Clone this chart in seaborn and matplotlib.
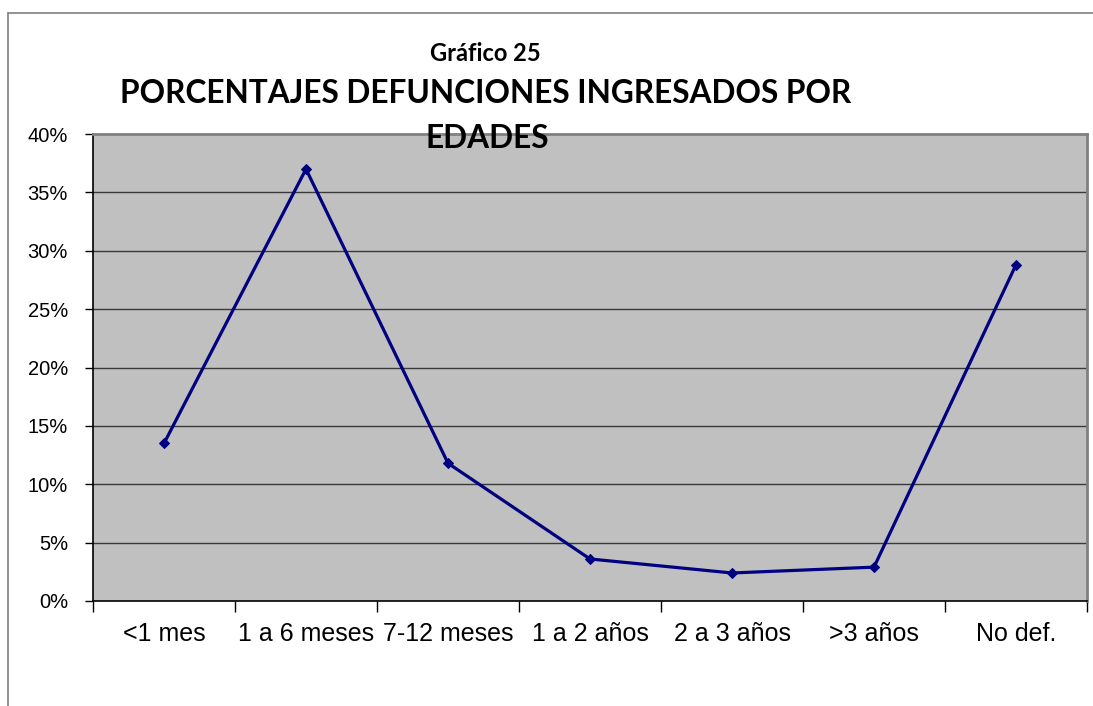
import matplotlib
matplotlib.use("Agg")
import matplotlib.pyplot as plt
from matplotlib.lines import Line2D
import seaborn as sns
import pandas as pd

# Age groups and share of deaths among admitted patients
categories = ["<1 mes", "1 a 6 meses", "7-12 meses", "1 a 2 años", "2 a 3 años", ">3 años", "No def."]
percentages = [13.5, 37.0, 11.8, 3.6, 2.4, 2.9, 28.8]
y_ticks = [0, 5, 10, 15, 20, 25, 30, 35, 40]
y_tick_labels = [f"{v}%" for v in y_ticks]

df = pd.DataFrame({"edad": categories, "porcentaje": percentages})

sns.set_theme(style="white")
plt.rcParams["font.family"] = ["Liberation Sans", "DejaVu Sans"]

fig = plt.figure(figsize=(10.93, 7.06), dpi=100)
ax = fig.add_axes([93 / 1093, 1 - 601 / 706, (1087 - 93) / 1093, (601 - 134) / 706])
ax.set_facecolor("#C0C0C0")

# outer chart frame: only its top and left edges fall inside the canvas
frame_x = 7.5 / 1093
frame_y = 1 - 12.5 / 706
fig.add_artist(Line2D([frame_x, 1.0], [frame_y, frame_y], transform=fig.transFigure,
                      color="#808080", linewidth=1.2))
fig.add_artist(Line2D([frame_x, frame_x], [0.0, frame_y], transform=fig.transFigure,
                      color="#808080", linewidth=1.2))

for v in y_ticks[1:-1]:
    ax.axhline(v, color="#3a3a3a", linewidth=1.0, zorder=1)

sns.lineplot(data=df, x="edad", y="porcentaje", ax=ax, color="#000080",
             linewidth=2.3, marker="D", markersize=5.5, markeredgecolor="#000080",
             sort=False, zorder=3)

ax.set_xlim(-0.5, len(categories) - 0.5)
ax.set_ylim(0, 40)
ax.set_yticks(y_ticks)
ax.set_yticklabels(y_tick_labels)
ax.set_xticks(range(len(categories)))
ax.set_xticklabels(categories)
ax.set_xticks([i - 0.5 for i in range(len(categories) + 1)], minor=True)
ax.tick_params(axis="x", which="major", length=0, pad=15, labelsize=18, labelcolor="black")
ax.tick_params(axis="x", which="minor", length=8, width=1, color="black", direction="out", bottom=True)
ax.tick_params(axis="y", which="major", length=6, width=1, color="black", direction="out",
               left=True, pad=12, labelsize=14.5, labelcolor="black")
ax.set_xlabel("")
ax.set_ylabel("")

for side in ["left", "bottom"]:
    ax.spines[side].set_color("black")
    ax.spines[side].set_linewidth(1.2)
for side in ["top", "right"]:
    ax.spines[side].set_color("#808080")
    ax.spines[side].set_linewidth(2.0)
    ax.spines[side].set_visible(True)

title_font = ["Lato", "DejaVu Sans"]
fig.text(485 / 1093, 1 - 61 / 706, "Gráfico 25", ha="center", va="baseline",
         fontsize=17, fontweight="bold", family=title_font, color="black")
fig.text(486 / 1093, 1 - 103 / 706, "PORCENTAJES DEFUNCIONES INGRESADOS POR",
         ha="center", va="baseline", fontsize=22.8, fontweight="bold", family=title_font,
         color="black")
fig.text(487 / 1093, 1 - 148 / 706, "EDADES",
         ha="center", va="baseline", fontsize=22.8, fontweight="bold", family=title_font,
         color="black", zorder=5)

fig.savefig("out.png", dpi=100)
